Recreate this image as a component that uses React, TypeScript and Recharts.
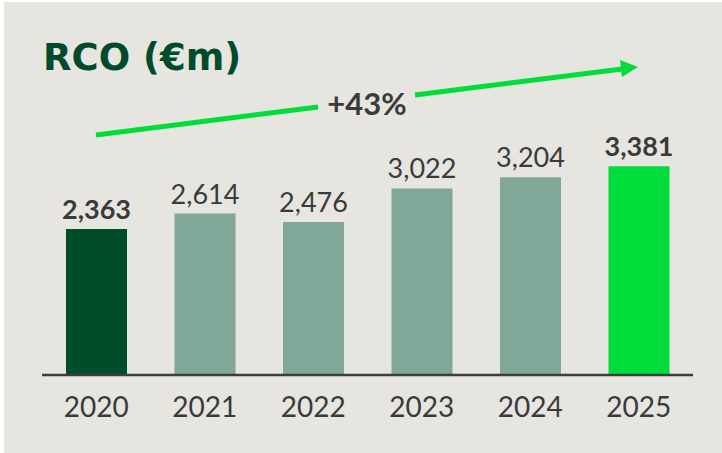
import React from "react";
import { BarChart, Bar, XAxis, YAxis, Cell, LabelList } from "recharts";

const years = ["2020", "2021", "2022", "2023", "2024", "2025"];
const rco = [2363, 2614, 2476, 3022, 3204, 3381];
const barColors = ["#004d2c", "#80a797", "#80a797", "#80a797", "#80a797", "#00dd3b"];
const boldLabels = [true, false, false, false, false, true];
const growthLabel = "+43%";

const data = years.map((year, i) => ({ year, value: rco[i] }));

const TEXT = "#3a3a3a";
const FONT = "Lato, 'Open Sans', sans-serif";

function ValueLabel(props: any) {
  const { x, y, width, value, index } = props;
  return (
    <text
      x={x + width / 2}
      y={y - 10}
      textAnchor="middle"
      fill={TEXT}
      fontFamily={FONT}
      fontSize={27}
      fontWeight={boldLabels[index] ? 700 : 400}
    >
      {Number(value).toLocaleString("en-US")}
    </text>
  );
}

export default function App() {
  return (
    <div style={{ position: "absolute", left: 0, top: 0, width: 722, height: 453, background: "#fff" }}>
      <div
        style={{
          position: "absolute",
          left: 4,
          top: 2,
          width: 718,
          height: 451,
          background: "#e6e5df",
        }}
      />
      <div style={{ position: "absolute", left: 0, top: 0 }}>
        <BarChart
          width={722}
          height={453}
          data={data}
          margin={{ top: 128, right: 29, left: 42, bottom: 38 }}
        >
          <XAxis
            dataKey="year"
            height={40}
            tickLine={false}
            tickSize={0}
            tickMargin={22}
            axisLine={{ stroke: "#3d3d3d", strokeWidth: 2.5 }}
            tick={{ fill: TEXT, fontSize: 28, fontFamily: FONT, fontWeight: 400 }}
          />
          <YAxis hide domain={[0, 4000]} />
          <Bar dataKey="value" barSize={61} isAnimationActive={false}>
            {data.map((d, i) => (
              <Cell key={d.year} fill={barColors[i]} />
            ))}
            <LabelList dataKey="value" content={<ValueLabel />} />
          </Bar>
        </BarChart>
      </div>
      <svg width={722} height={453} style={{ position: "absolute", left: 0, top: 0, pointerEvents: "none" }}>
        <text
          x={43}
          y={70}
          fill="#004b2b"
          fontFamily="'DejaVu Sans', sans-serif"
          fontWeight={700}
          fontSize={37}
        >
          RCO (€m)
        </text>
        <line x1={96} y1={135} x2={318} y2={107} stroke="#00dd3b" strokeWidth={5} />
        <line x1={415} y1={95} x2={622} y2={69} stroke="#00dd3b" strokeWidth={5} />
        <polygon points="620,60 638,67 622,77" fill="#00dd3b" />
        <text
          x={367}
          y={115}
          textAnchor="middle"
          fill={TEXT}
          fontFamily={FONT}
          fontWeight={700}
          fontSize={31}
        >
          {growthLabel}
        </text>
      </svg>
    </div>
  );
}
